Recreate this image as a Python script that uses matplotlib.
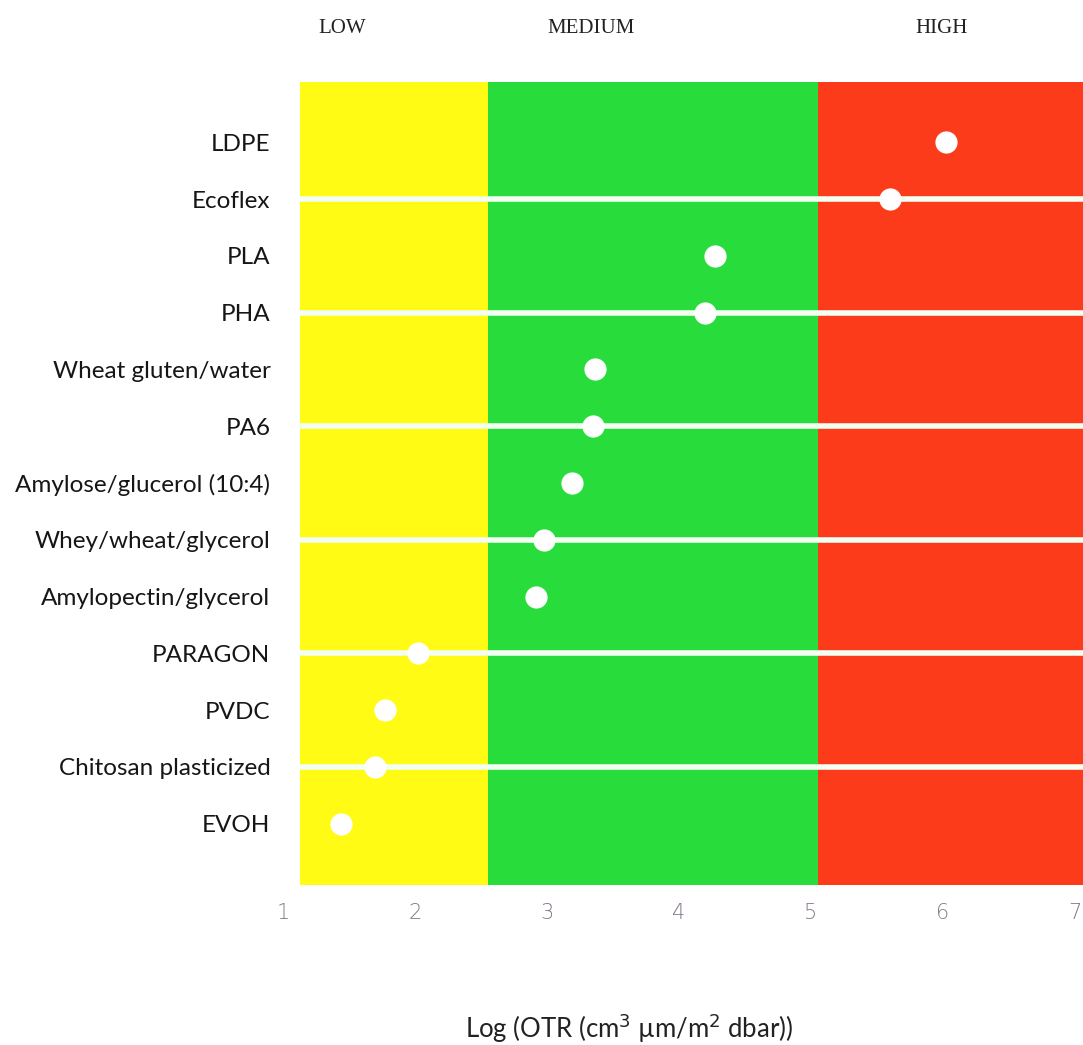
import matplotlib.pyplot as plt
import matplotlib.transforms as mtransforms

materials = ['LDPE', 'Ecoflex', 'PLA', 'PHA', 'Wheat gluten/water', 'PA6',
             'Amylose/glucerol (10:4)', 'Whey/wheat/glycerol', 'Amylopectin/glycerol',
             'PARAGON', 'PVDC', 'Chitosan plasticized', 'EVOH']
log_otr = [6.02, 5.60, 4.27, 4.20, 3.36, 3.35, 3.19, 2.98, 2.92, 2.02, 1.77, 1.70, 1.44]

zones = ['LOW', 'MEDIUM', 'HIGH']
zone_edges = [1.13, 2.55, 5.05, 7.06]
zone_colors = ['#fffb14', '#28dc3c', '#fb3b19']
zone_label_x = [1.45, 3.33, 5.99]
xticks = [1, 2, 3, 4, 5, 6, 7]

fig = plt.figure(figsize=(10.83, 10.45), dpi=100)
ax = fig.add_axes([0.2613, 0.1531, 0.7387, 0.7684])

rows = list(range(len(materials)))

for i in range(3):
    ax.axvspan(zone_edges[i], zone_edges[i + 1], color=zone_colors[i], lw=0, zorder=0)

# white separators run through every other row
for r in rows[1::2]:
    ax.hlines(r, zone_edges[0], zone_edges[-1], color='#f2fff2', lw=4, zorder=1)

ax.plot(log_otr, rows, 'o', color='white', ms=16, mec='none', zorder=3)

ax.set_xlim(1, 7.06)
ax.set_ylim(13.08, -1.06)
ax.set_xticks(xticks)
ax.set_xticklabels([str(t) for t in xticks], color='#86768a', fontsize=15,
                   fontfamily='DejaVu Sans', fontweight='light')
ax.set_yticks(rows)
ax.set_yticklabels(materials, fontsize=17.5, fontfamily='Lato', color='#161616')
ax.tick_params(axis='x', length=0, pad=13)
ax.tick_params(axis='y', length=0, pad=9)
for s in ax.spines.values():
    s.set_visible(False)

trans = mtransforms.blended_transform_factory(ax.transData, fig.transFigure)
for name, x in zip(zones, zone_label_x):
    ax.text(x, 0.973, name, transform=trans, ha='center', va='center',
            fontsize=15, fontfamily='Liberation Serif', color='#222222')

fig.text(0.581, 0.016, 'Log (OTR (cm$^3$ µm/m$^2$ dbar))', ha='center', va='center',
         fontsize=18.5, fontfamily='Lato', color='#222222')

fig.savefig('out.png', dpi=100)
